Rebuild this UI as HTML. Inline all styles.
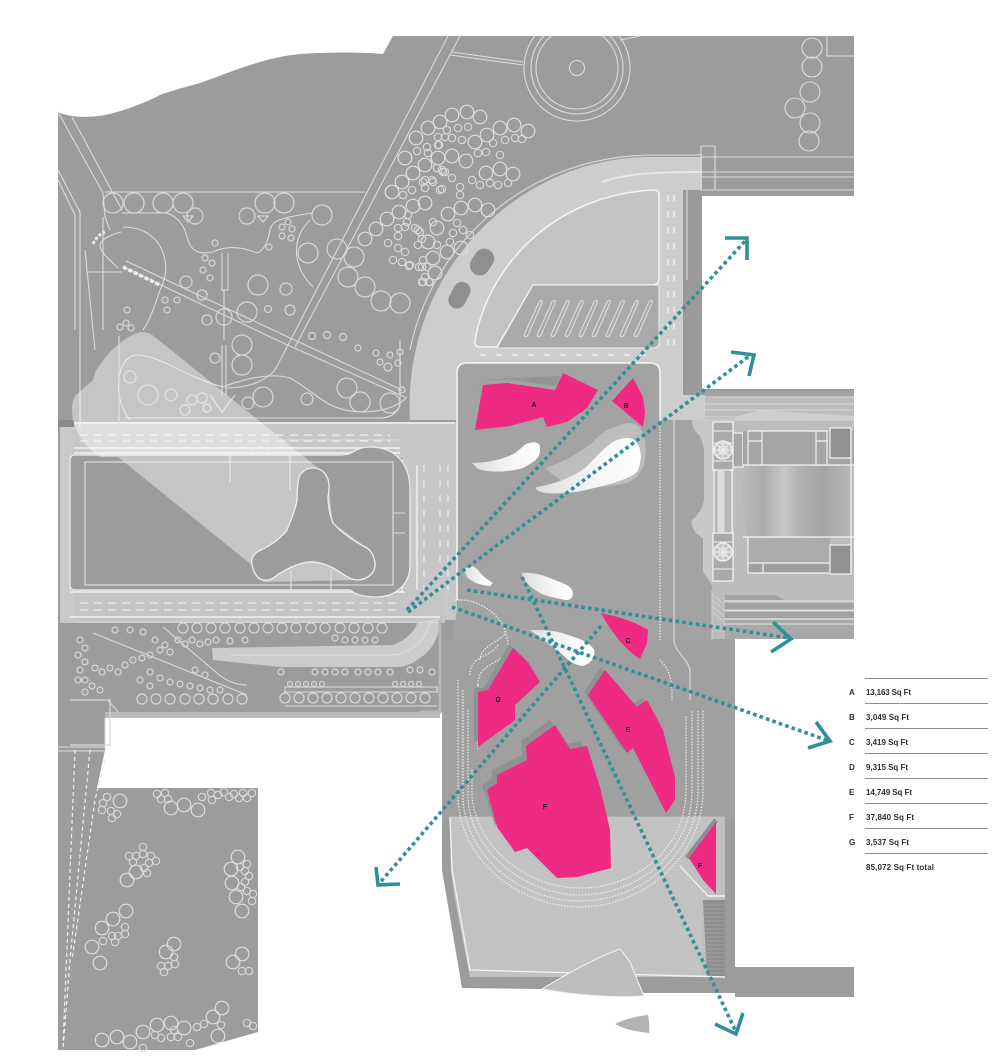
<!DOCTYPE html>
<html><head><meta charset="utf-8"><title>Site plan</title>
<style>
html,body{margin:0;padding:0;background:#fff}
svg{display:block}
.l{fill:none;stroke:#dcdcdc;stroke-width:1.1}
.w{fill:none;stroke:#f2f2f2;stroke-width:1.4}
.big circle{r:6.8px}
.sm circle{r:3.7px}
.t{fill:none;stroke:#d8d8d8;stroke-width:1.2}
.tb{fill:none;stroke:#dedede;stroke-width:1.2}
.p{fill:#ee2a82}
.sh{fill:#919191}
.lab{font:bold 7px "Liberation Sans",sans-serif;fill:#2a1020;text-anchor:middle}
.k{font:bold 8px "Liberation Sans",sans-serif;fill:#2e2e2e}
.a{fill:none;stroke:#2f9097;stroke-width:3.6;stroke-dasharray:3.6 3.2}
.h{fill:none;stroke:#2f9097;stroke-width:3.6}
.d{fill:none;stroke:#eee;stroke-width:1.2;stroke-dasharray:1.5 1.5}
</style></head><body>
<svg width="1000" height="1060" viewBox="0 0 1000 1060" xmlns="http://www.w3.org/2000/svg">
<defs>
<linearGradient id="sw" x1="0" x2="1" y1="0" y2="0"><stop offset="0" stop-color="#dedede"/><stop offset=".6" stop-color="#f6f6f6"/><stop offset="1" stop-color="#fff"/></linearGradient>
<linearGradient id="bld" x1="0" x2="1" y1="0" y2="0">
<stop offset="0" stop-color="#b8b8b8"/><stop offset=".2" stop-color="#adadad"/><stop offset=".38" stop-color="#c8c8c8"/><stop offset=".52" stop-color="#b2b2b2"/><stop offset=".75" stop-color="#a4a4a4"/><stop offset="1" stop-color="#b8b8b8"/></linearGradient>
<clipPath id="top"><rect x="300" y="36" width="560" height="200"/></clipPath>
</defs>
<rect width="1000" height="1060" fill="#fff"/>
<!-- base -->
<path fill="#9c9c9c" d="M58 112C70 118 95 119 117 112C140 105 150 100 160 95C180 88 190 86 200 83C225 74 240 68 250 65C275 57 290 55 300 54C330 52 360 52 383 54L393 36H854V196H702V389H854V639H735V967H854V997H735V993L644 993L542 989L462 988L442 870V712L105 717V750L97 788H258V1032L195 1050H58Z"/>
<!-- upper light road -->
<path fill="#cdcdcd" d="M410 420C402 270 520 157 650 157H702V190H683V395H705V420H457V420Z"/>
<path fill="#9a9a9a" d="M683 190H702V390H683Z"/>
<path class="l" d="M702 157H854M702 172H854M702 177H854M702 190H854M701 146H715V190H701ZM687 190V280"/>
<path class="l" d="M410 350C430 250 520 157 650 155H702"/>
<path d="M602 182C625 174 650 172 702 172" fill="none" stroke="#e8e8e8" stroke-width="2"/>
<!-- inner lot -->
<path fill="#c3c3c3" stroke="#f4f4f4" stroke-width="1.5" d="M654 190C560 194 490 260 475 340Q474 347 480 347H497L533 285H652Q659 285 659 278V195Q659 190 654 190Z"/>
<path fill="#a9a9a9" stroke="#f0f0f0" stroke-width="1" d="M497 348L533 285H659V343Q659 348 652 348Z"/>
<g class="l" stroke-width="1">
<path d="M524 335L539 302Q543 298 542 303L528 335Q525 338 524 335Z"/><path d="M537 335L552 302Q556 298 555 303L541 335Q538 338 537 335Z"/><path d="M551 335L566 302Q570 298 569 303L555 335Q552 338 551 335Z"/><path d="M565 335L580 302Q584 298 583 303L569 335Q566 338 565 335Z"/><path d="M579 335L594 302Q598 298 597 303L583 335Q580 338 579 335Z"/><path d="M592 335L607 302Q611 298 610 303L596 335Q593 338 592 335Z"/><path d="M606 335L621 302Q625 298 624 303L610 335Q607 338 606 335Z"/><path d="M620 335L635 302Q639 298 638 303L624 335Q621 338 620 335Z"/><path d="M634 335L649 302Q653 298 652 303L638 335Q635 338 634 335Z"/>
</g>
<g transform="rotate(33 482 262)"><rect x="472" y="248" width="20" height="28" rx="10" fill="#8f8f8f"/></g>
<g transform="rotate(28 459 295)"><rect x="451" y="281" width="17" height="28" rx="8.500" fill="#8f8f8f"/></g>
<path d="M668 195V350M674 195V350" stroke="#eee" stroke-width="1.5" stroke-dasharray="6 10" fill="none"/>
<path d="M480 355H650" stroke="#eee" stroke-width="1.5" stroke-dasharray="6 10" fill="none"/>
<!-- horizontal roads + left light -->
<rect x="60" y="422" width="397" height="36" fill="#c7c7c7"/>
<rect x="402" y="440" width="55" height="180" fill="#c7c7c7"/>
<rect x="60" y="590" width="385" height="33" fill="#c5c5c5"/>
<rect x="60" y="422" width="14" height="200" fill="#c9c9c9"/>
<rect x="58" y="420" width="16" height="7" fill="#8a8a8a"/>
<path d="M74 423H455M74 448H400M74 453H400M70 592H405M70 617H440M402 460V592M417 465V590" class="w"/>
<path d="M80 435H390M80 441H390M80 603H400M80 610H400" stroke="#eee" stroke-width="1.2" stroke-dasharray="8 6" fill="none"/>
<path d="M424 465V590M440 465V590M448 465V590" stroke="#eee" stroke-width="1.2" stroke-dasharray="7 8" fill="none"/>
<!-- lower road -->
<path fill="#cccccc" d="M212 648L393 645C405 640 415 632 417 623L440 618C440 635 433 650 420 658C412 664 405 667 395 667L280 667L213 660Z"/>
<path class="l" d="M230 655H390C410 655 428 640 430 620"/>
<path class="l" d="M163 627L217 673C225 680 235 685 247 685M93 633L247 695M74 622H440M285 687H437V692H285ZM285 692H440M285 706H437"/>
<rect x="105" y="712" width="335" height="6" fill="#bbb"/>
<path d="M420 712H440V620" fill="none" stroke="#b7b7b7" stroke-width="3"/>
<!-- block -->
<path fill="#9c9c9c" stroke="#ededed" stroke-width="1.3" d="M75 455H340Q348 455 353 452C360 447 370 446 380 448C400 452 410 468 410 490V565C410 585 395 597 377 597C362 597 355 594 350 590H75Q70 590 70 585V460Q70 455 75 455Z"/>
<rect x="85" y="462" width="308" height="123" fill="none" stroke="#e2e2e2" stroke-width="1.1"/>
<path class="l" d="M230 453V482M290 453V490M250 453C250 445 270 445 270 453M393 513H405M393 533H405M291 570V590M331 570V590"/>
<!-- park lines -->
<g class="l">
<path d="M58 112L103 193L105 217L110 230M72 117L122 210M58 170L80 212V430M58 180L75 215V330M85 250L95 350M103 217V330M88 272H122"/>
<path d="M105 192H365"/>
<path d="M448 36L287 347M460 36L295 347"/>
<path d="M452 52L523 62M450 55L523 65M620 40L640 36"/>
<path d="M123 267L283 343L405 397M126 261L288 337L402 390"/>
<path d="M122 213H167C180 218 185 228 187 237C190 248 195 253 205 253L213 252C225 246 240 246 257 253C265 250 268 240 270 230C272 222 276 218 313 213"/>
<path d="M310 220C298 232 295 245 297 258C299 270 306 280 313 287"/>
<path d="M123 227C140 227 150 233 158 243C168 258 168 275 160 290C155 305 150 320 143 330"/>
<path d="M222 253V290H228V253M224 290V340M121 232C110 235 100 240 100 245C100 252 110 260 118 268"/>
<path d="M222 345V395M226 345V395M210 395L222 412L235 395"/>
<path d="M120 440H400M119 336V440"/>
<path d="M130 420C110 395 118 355 137 355C160 355 180 375 223 387C240 380 270 372 290 378C320 395 325 410 360 412C385 412 400 405 407 397"/>
<path d="M287 347L275 370C262 385 240 388 226 388"/>
<path d="M400 340V405Q395 418 380 418H125"/>
</g>
<path d="M123 267L160 285" stroke="#eee" stroke-width="3.500" stroke-dasharray="4 2" fill="none"/>
<path d="M93 244Q98 234 105 232" stroke="#eee" stroke-width="3" stroke-dasharray="3 2" fill="none"/>
<g class="t">
<circle cx="113" cy="203" r="10"/><circle cx="134" cy="203" r="10"/><circle cx="163" cy="203" r="10"/><circle cx="183" cy="203" r="10"/><circle cx="265" cy="203" r="10"/><circle cx="284" cy="203" r="10"/><circle cx="195" cy="216" r="8"/><circle cx="247" cy="216" r="8"/><circle cx="322" cy="215" r="10"/>
<circle cx="258" cy="285" r="10"/><circle cx="286" cy="289" r="6"/><circle cx="186" cy="282" r="6"/><circle cx="202" cy="295" r="5"/><circle cx="247" cy="312" r="10"/><circle cx="207" cy="320" r="5"/><circle cx="290" cy="310" r="5"/><circle cx="268" cy="309" r="3.500"/><circle cx="224" cy="317" r="8"/><circle cx="242" cy="345" r="10"/><circle cx="242" cy="365" r="10"/><circle cx="215" cy="358" r="5"/>
<circle cx="308" cy="253" r="10"/><circle cx="337" cy="249" r="10"/><circle cx="354" cy="257" r="10"/><circle cx="348" cy="277" r="10"/><circle cx="365" cy="287" r="10"/><circle cx="381" cy="301" r="10"/><circle cx="400" cy="303" r="10"/>
<circle cx="148" cy="395" r="10"/><circle cx="130" cy="377" r="6"/><circle cx="171" cy="395" r="6"/><circle cx="192" cy="400" r="5"/><circle cx="202" cy="398" r="5"/><circle cx="185" cy="410" r="5"/><circle cx="207" cy="408" r="4"/><circle cx="263" cy="397" r="10"/><circle cx="248" cy="403" r="6"/><circle cx="307" cy="399" r="6"/>
<circle cx="347" cy="388" r="10"/><circle cx="360" cy="402" r="10"/><circle cx="390" cy="403" r="10"/><circle cx="312" cy="336" r="3.500"/><circle cx="327" cy="335" r="3.500"/><circle cx="343" cy="337" r="3.500"/><circle cx="358" cy="348" r="3"/><circle cx="376" cy="353" r="3"/><circle cx="390" cy="355" r="3"/><circle cx="400" cy="352" r="3"/><circle cx="380" cy="362" r="3"/><circle cx="388" cy="367" r="4"/><circle cx="398" cy="363" r="3"/><circle cx="402" cy="390" r="3"/>
<circle cx="215" cy="243" r="3"/><circle cx="205" cy="258" r="3"/><circle cx="212" cy="263" r="3"/><circle cx="203" cy="270" r="3"/><circle cx="210" cy="278" r="3"/><circle cx="288" cy="222" r="3"/><circle cx="282" cy="227" r="3"/><circle cx="292" cy="229" r="3"/><circle cx="282" cy="236" r="3"/><circle cx="291" cy="238" r="3"/><circle cx="269" cy="247" r="3"/>
<circle cx="127" cy="310" r="3"/><circle cx="126" cy="323" r="3"/><circle cx="120" cy="327" r="3"/><circle cx="131" cy="328" r="3"/><circle cx="165" cy="300" r="3"/><circle cx="167" cy="310" r="3"/><circle cx="177" cy="300" r="3"/>
</g>
<path d="M183 216L193 216L188 222ZM258 216L268 216L263 222Z" class="l"/>
<!-- top cluster -->
<g class="tb big">
<circle cx="467" cy="112"/><circle cx="452" cy="115"/><circle cx="440" cy="122"/><circle cx="428" cy="128"/><circle cx="416" cy="138"/><circle cx="480" cy="117"/><circle cx="500" cy="128"/><circle cx="514" cy="125"/><circle cx="528" cy="131"/><circle cx="487" cy="135"/><circle cx="475" cy="142"/><circle cx="438" cy="158"/><circle cx="452" cy="156"/><circle cx="466" cy="161"/><circle cx="425" cy="165"/><circle cx="413" cy="173"/><circle cx="405" cy="158"/><circle cx="486" cy="173"/><circle cx="500" cy="169"/><circle cx="513" cy="174"/><circle cx="402" cy="182"/><circle cx="425" cy="203"/><circle cx="413" cy="206"/><circle cx="448" cy="214"/><circle cx="461" cy="208"/><circle cx="475" cy="205"/><circle cx="488" cy="210"/><circle cx="437" cy="228"/><circle cx="428" cy="242"/><circle cx="447" cy="252"/><circle cx="461" cy="248"/><circle cx="433" cy="258"/><circle cx="435" cy="273"/><circle cx="392" cy="192"/><circle cx="399" cy="212"/><circle cx="387" cy="219"/><circle cx="376" cy="229"/><circle cx="365" cy="239"/>
</g>
<g class="t sm">
<circle cx="417" cy="151"/><circle cx="428" cy="153"/><circle cx="445" cy="137"/><circle cx="438" cy="145"/><circle cx="437" cy="168"/><circle cx="443" cy="172"/><circle cx="432" cy="180"/><circle cx="423" cy="182"/><circle cx="412" cy="190"/><circle cx="403" cy="195"/><circle cx="425" cy="188"/><circle cx="442" cy="189"/><circle cx="407" cy="222"/><circle cx="398" cy="228"/><circle cx="398" cy="236"/><circle cx="388" cy="243"/><circle cx="415" cy="228"/><circle cx="420" cy="232"/><circle cx="422" cy="239"/><circle cx="418" cy="245"/><circle cx="398" cy="248"/><circle cx="393" cy="260"/><circle cx="405" cy="252"/><circle cx="402" cy="262"/><circle cx="409" cy="266"/><circle cx="419" cy="267"/><circle cx="427" cy="267"/><circle cx="425" cy="277"/><circle cx="422" cy="282"/><circle cx="429" cy="282"/>
<circle cx="447" cy="130"/><circle cx="458" cy="128"/><circle cx="468" cy="127"/><circle cx="438" cy="137"/><circle cx="452" cy="138"/><circle cx="462" cy="140"/><circle cx="439" cy="145"/><circle cx="427" cy="147"/><circle cx="493" cy="143"/><circle cx="505" cy="140"/><circle cx="515" cy="138"/><circle cx="522" cy="139"/><circle cx="486" cy="152"/><circle cx="500" cy="155"/><circle cx="478" cy="153"/><circle cx="442" cy="170"/><circle cx="425" cy="180"/><circle cx="433" cy="182"/><circle cx="440" cy="190"/><circle cx="460" cy="187"/><circle cx="460" cy="195"/><circle cx="472" cy="180"/><circle cx="480" cy="185"/><circle cx="490" cy="183"/><circle cx="508" cy="183"/><circle cx="498" cy="185"/><circle cx="445" cy="172"/><circle cx="452" cy="178"/><circle cx="405" cy="227"/><circle cx="408" cy="215"/><circle cx="418" cy="230"/><circle cx="433" cy="222"/><circle cx="457" cy="223"/><circle cx="463" cy="230"/><circle cx="470" cy="235"/><circle cx="453" cy="233"/><circle cx="450" cy="242"/><circle cx="423" cy="260"/><circle cx="422" cy="267"/><circle cx="423" cy="282"/><circle cx="430" cy="282"/><circle cx="437" cy="245"/><circle cx="410" cy="265"/>
</g>
<!-- roundabout -->
<g clip-path="url(#top)" class="l">
<circle cx="577" cy="68" r="53"/><circle cx="577" cy="68" r="46"/><circle cx="577" cy="68" r="41"/><circle cx="577" cy="68" r="7.500"/>
<circle cx="812" cy="48" r="10"/><circle cx="812" cy="67" r="10"/><circle cx="810" cy="92" r="10"/><circle cx="795" cy="108" r="10"/><circle cx="810" cy="123" r="10"/><circle cx="809" cy="141" r="10"/>
<path d="M827 36V56H854"/>
</g>
<!-- light band -->
<path fill="#fff" opacity=".42" d="M140 332Q150 332 156 338L318 468L327 477L333 523L367 548L375 563L357 580L263 582L258 570L118 457H100Q80 445 73 420Q70 402 76 395L93 380L95 372Q115 340 140 332Z"/>
<path class="l" d="M119 336V440M120 440H400" opacity=".8"/>
<g class="tb"><circle cx="148" cy="395" r="10"/><circle cx="130" cy="377" r="6"/><circle cx="171" cy="395" r="6"/><circle cx="192" cy="400" r="5"/><circle cx="202" cy="398" r="5"/><circle cx="185" cy="410" r="5"/></g>
<path fill="#9c9c9c" stroke="#f0f0f0" stroke-width="1.3" d="M313 468C303 468 298 476 298 483C297 490 297 495 297 500C295 512 290 522 287 530C278 542 265 548 257 552C252 556 251 561 252 565C254 574 258 579 263 580C270 581 274 578 277 575C285 570 295 565 303 563C315 560 325 564 333 568C342 573 350 580 357 580C368 580 376 572 375 563C374 556 372 552 367 548C355 542 343 534 333 523C329 513 328 505 328 497C330 487 329 481 327 477C324 471 319 468 313 468Z"/>
<path class="l" d="M291 570V590M331 570V590"/>
<!-- strip trees -->
<g class="t">
<circle cx="183" cy="628" r="5"/><circle cx="197" cy="628" r="5"/><circle cx="211" cy="628" r="5"/><circle cx="225" cy="628" r="5"/><circle cx="240" cy="628" r="5"/><circle cx="254" cy="628" r="5"/><circle cx="268" cy="628" r="5"/><circle cx="282" cy="628" r="5"/><circle cx="296" cy="628" r="5"/><circle cx="311" cy="628" r="5"/><circle cx="325" cy="628" r="5"/><circle cx="340" cy="628" r="5"/><circle cx="354" cy="628" r="5"/><circle cx="368" cy="628" r="5"/><circle cx="382" cy="628" r="5"/>
<circle cx="178" cy="640" r="3"/><circle cx="185" cy="644" r="3"/><circle cx="192" cy="640" r="3"/><circle cx="200" cy="644" r="3"/><circle cx="208" cy="642" r="3"/><circle cx="216" cy="640" r="3"/><circle cx="230" cy="641" r="3"/><circle cx="245" cy="640" r="3"/><circle cx="335" cy="638" r="3"/><circle cx="345" cy="640" r="3"/><circle cx="355" cy="640" r="3"/><circle cx="365" cy="640" r="3"/><circle cx="375" cy="640" r="3"/>
<circle cx="142" cy="699" r="5"/><circle cx="156" cy="699" r="5"/><circle cx="170" cy="699" r="5"/><circle cx="185" cy="699" r="5"/><circle cx="199" cy="699" r="5"/><circle cx="213" cy="699" r="5"/><circle cx="228" cy="699" r="5"/><circle cx="242" cy="699" r="5"/>
<circle cx="285" cy="698" r="5"/><circle cx="299" cy="698" r="5"/><circle cx="313" cy="698" r="5"/><circle cx="327" cy="698" r="5"/><circle cx="341" cy="698" r="5"/><circle cx="355" cy="698" r="5"/><circle cx="369" cy="698" r="5"/><circle cx="383" cy="698" r="5"/><circle cx="397" cy="698" r="5"/><circle cx="411" cy="698" r="5"/><circle cx="425" cy="698" r="5"/>
<circle cx="281" cy="672" r="3"/><circle cx="315" cy="672" r="3"/><circle cx="325" cy="672" r="3"/><circle cx="335" cy="672" r="3"/><circle cx="345" cy="672" r="3"/><circle cx="358" cy="672" r="3"/><circle cx="368" cy="672" r="3"/><circle cx="378" cy="672" r="3"/><circle cx="390" cy="672" r="3"/><circle cx="410" cy="670" r="3"/><circle cx="420" cy="670" r="3"/><circle cx="432" cy="672" r="3"/>
<circle cx="290" cy="684" r="2.500"/><circle cx="298" cy="684" r="2.500"/><circle cx="306" cy="684" r="2.500"/><circle cx="314" cy="684" r="2.500"/><circle cx="322" cy="684" r="2.500"/><circle cx="395" cy="684" r="2.500"/><circle cx="403" cy="684" r="2.500"/><circle cx="411" cy="684" r="2.500"/><circle cx="419" cy="684" r="2.500"/>
<circle cx="80" cy="640" r="3"/><circle cx="85" cy="648" r="3"/><circle cx="78" cy="655" r="3"/><circle cx="85" cy="662" r="3"/><circle cx="80" cy="670" r="3"/><circle cx="85" cy="680" r="3"/><circle cx="92" cy="686" r="3"/><circle cx="100" cy="690" r="3"/><circle cx="85" cy="692" r="3"/><circle cx="78" cy="680" r="3"/><circle cx="95" cy="668" r="3"/><circle cx="102" cy="672" r="3"/><circle cx="110" cy="668" r="3"/><circle cx="118" cy="672" r="3"/><circle cx="125" cy="665" r="3"/><circle cx="133" cy="660" r="3"/><circle cx="142" cy="658" r="3"/><circle cx="150" cy="655" r="3"/><circle cx="160" cy="650" r="3"/><circle cx="170" cy="652" r="3"/><circle cx="115" cy="630" r="3"/><circle cx="130" cy="630" r="3"/><circle cx="143" cy="632" r="3"/><circle cx="155" cy="640" r="3"/><circle cx="165" cy="645" r="3"/>
<circle cx="150" cy="672" r="3"/><circle cx="160" cy="678" r="3"/><circle cx="170" cy="682" r="3"/><circle cx="180" cy="684" r="3"/><circle cx="190" cy="686" r="3"/><circle cx="200" cy="688" r="3"/><circle cx="210" cy="690" r="3"/><circle cx="220" cy="690" r="3"/><circle cx="140" cy="680" r="3"/><circle cx="150" cy="686" r="3"/><circle cx="195" cy="670" r="3"/><circle cx="205" cy="675" r="3"/>
<path d="M70 700H110V745H70M108 700L118 712"/>
</g>
<!-- lower-left block -->
<path d="M105 718V748" class="l"/><path d="M58 747H105M58 751H105" class="l"/>
<path d="M75 750L63 1045M90 750L70 960L63 1050M105 760L95 800L72 960" fill="none" stroke="#eee" stroke-width="1.2" stroke-dasharray="4 3"/>
<g class="tb big">
<circle cx="120" cy="801"/><circle cx="171" cy="808"/><circle cx="184" cy="805"/><circle cx="198" cy="810"/><circle cx="136" cy="872"/><circle cx="127" cy="880"/><circle cx="238" cy="857"/><circle cx="231" cy="869"/><circle cx="232" cy="883"/><circle cx="236" cy="897"/><circle cx="242" cy="911"/><circle cx="126" cy="911"/><circle cx="113" cy="919"/><circle cx="102" cy="928"/><circle cx="92" cy="947"/><circle cx="100" cy="963"/><circle cx="174" cy="944"/><circle cx="166" cy="952"/><circle cx="242" cy="954"/><circle cx="233" cy="962"/><circle cx="222" cy="1008"/><circle cx="213" cy="1017"/><circle cx="218" cy="1036"/><circle cx="184" cy="1028"/><circle cx="171" cy="1023"/><circle cx="157" cy="1025"/><circle cx="143" cy="1032"/><circle cx="130" cy="1042"/><circle cx="117" cy="1037"/><circle cx="102" cy="1040"/>
</g>
<g class="t sm">
<circle cx="107" cy="797"/><circle cx="103" cy="803"/><circle cx="102" cy="810"/><circle cx="111" cy="811"/><circle cx="117" cy="814"/><circle cx="112" cy="818"/><circle cx="157" cy="794"/><circle cx="165" cy="793"/><circle cx="161" cy="799"/><circle cx="168" cy="799"/><circle cx="202" cy="797"/><circle cx="211" cy="793"/><circle cx="218" cy="795"/><circle cx="212" cy="800"/><circle cx="224" cy="792"/><circle cx="229" cy="797"/><circle cx="234" cy="794"/><circle cx="239" cy="798"/><circle cx="243" cy="793"/><circle cx="247" cy="798"/><circle cx="252" cy="793"/><circle cx="143" cy="847"/><circle cx="129" cy="856"/><circle cx="136" cy="856"/><circle cx="143" cy="854"/><circle cx="151" cy="856"/><circle cx="133" cy="862"/><circle cx="156" cy="861"/><circle cx="149" cy="863"/><circle cx="144" cy="868"/><circle cx="147" cy="873"/><circle cx="240" cy="867"/><circle cx="247" cy="864"/><circle cx="245" cy="871"/><circle cx="249" cy="876"/><circle cx="245" cy="882"/><circle cx="241" cy="887"/><circle cx="247" cy="891"/><circle cx="253" cy="894"/><circle cx="252" cy="901"/><circle cx="125" cy="927"/><circle cx="125" cy="934"/><circle cx="118" cy="936"/><circle cx="112" cy="936"/><circle cx="115" cy="942"/><circle cx="103" cy="941"/><circle cx="174" cy="957"/><circle cx="175" cy="964"/><circle cx="168" cy="966"/><circle cx="161" cy="966"/><circle cx="164" cy="972"/><circle cx="242" cy="971"/><circle cx="249" cy="971"/><circle cx="247" cy="1023"/><circle cx="253" cy="1026"/><circle cx="197" cy="1027"/><circle cx="204" cy="1024"/><circle cx="221" cy="1025"/><circle cx="174" cy="1030"/><circle cx="171" cy="1037"/><circle cx="178" cy="1037"/><circle cx="155" cy="1035"/><circle cx="161" cy="1038"/><circle cx="190" cy="1043"/><circle cx="143" cy="1048"/>
</g>
<!-- plaza -->
<path fill="#a3a3a3" d="M467 363H650Q660 363 660 373V420H735V712H442V640H452L457 610V373Q457 363 467 363Z"/>
<path fill="none" stroke="#f5f5f5" stroke-width="1.5" d="M457 600V373Q457 363 467 363H650Q660 363 660 373V420"/>
<path fill="#a0a0a0" d="M442 640H735V820H442Z"/>
<path d="M660 420V640" class="d"/><path d="M674 420V640C674 652 690 660 690 672V700" class="l"/>
<path d="M455 600H462C482 600 505 620 505 632C505 640 480 645 480 660" class="d" stroke-width="1"/>
<!-- lower light -->
<path fill="#c2c2c2" d="M450 817H725V977H470L455 900L451 870Z"/>
<path fill="#8f8f8f" d="M703 900H725V977H707Z"/>
<path d="M703 905H725M703 909H725M703 913H725M703 917H725M703 921H725M703 925H725M703 929H725M703 933H725M703 937H725M703 941H725M703 945H725M703 949H725M703 953H725M703 957H725M703 961H725M703 965H725M703 969H725M703 973H725" stroke="#a8a8a8" stroke-width=".8"/>
<path class="w" stroke-width="1" d="M450 817L452 870L470 970L725 977"/>
<path d="M450 817H725" stroke="#ccc" stroke-width=".8"/>
<!-- track -->
<g class="d">
<path d="M458 680V795C458 860 520 907 580 907C640 907 703 860 703 790V710"/>
<path d="M463 690V795C463 855 520 901 580 901C640 901 698 855 698 790V710"/>
<path d="M468 710V795C468 850 525 895 580 895C638 895 692 852 692 790V710"/>
<path d="M472 770V795C475 845 525 888 580 888C635 888 686 850 686 790V715"/>
<path d="M478 685V750M478 685C478 665 495 665 505 655C510 650 508 640 505 630"/>
<path d="M470 675C470 655 490 658 498 645"/>
<path d="M672 700C672 685 672 672 660 660"/>
</g>
<!-- G wedge -->
<path fill="#c0c0c0" d="M716 817L680 866L708 900H725V817Z"/>
<path fill="none" stroke="#8e8e8e" stroke-width="5" d="M716 820L687 858"/>
<path class="w" d="M680 866L708 896H725"/>
<!-- shadows -->
<path class="sh" transform="translate(-4 -4)" d="M478 692H488L513 648L528 662L540 682L515 705V720L478 747Z"/>
<path class="sh" transform="translate(-4 -3)" d="M588 695L605 670L637 707L647 700L663 730L660 745L640 750L627 753Z"/>
<path class="sh" transform="translate(-5 -5)" d="M487 790L497 783V775L527 760L526 746L555 725L570 749L587 746L590 770L500 830Z"/>
<path fill="#959595" d="M477 388L483 380H510L555 386L561 376L507 378L484 380Z"/>
<!-- white swooshes -->
<path fill="url(#sw)" d="M472 463C490 463 507 458 515 453C522 448 525 443 530 443C537 441 541 444 540 450C540 456 538 460 523 468C510 472 490 473 478 469Z"/>
<path fill="#bdbdbd" d="M545 468C565 462 583 450 592 443C600 434 608 428 613 428C622 423 632 421 638 426C645 431 647 445 645 460C643 472 635 480 627 483C610 487 580 490 560 480Z"/>
<path fill="url(#sw)" d="M537 487C555 484 573 477 585 468C595 458 605 447 613 442C622 437 633 436 637 443C642 450 642 462 637 472C628 480 607 485 590 489C575 493 557 494 545 493Q533 490 537 487Z"/>
<path fill="url(#sw)" d="M463 569L473 566L478 570C482 576 488 580 493 583L490 586C480 585 473 583 467 577Z"/>
<path fill="url(#sw)" d="M522 573C530 572 540 574 550 578C560 582 570 585 572 590C574 595 572 600 566 600C555 598 543 596 535 590C528 585 522 578 522 573Z"/>
<path fill="url(#sw)" d="M530 630C542 630 555 630 565 634C578 638 590 642 594 650C596 657 590 664 583 666C575 665 570 662 564 656C555 648 540 638 530 630Z"/>
<!-- right building -->
<rect x="705" y="391" width="149" height="248" fill="#bcbcbc"/>
<rect x="705" y="391" width="149" height="6" fill="#a3a3a3"/>
<path d="M705 397H854M705 404H854M705 410H854M705 417H854M705 420H854" stroke="#d8d8d8" stroke-width="1"/>
<path d="M735 417L760 410L854 416L854 420H735Z" fill="#cfcfcf"/>
<path fill="#a3a3a3" d="M690 420H712V640H690Z"/>
<path fill="#c8c8c8" d="M692 420C692 428 696 432 700 436C702 442 704 446 704 452V500C702 510 698 515 692 520C690 528 696 534 703 538V572L712 585V420Z"/>
<rect x="710" y="420" width="24" height="162" fill="#c6c6c6"/>
<g fill="#a9a9a9" stroke="#f4f4f4" stroke-width="1.2">
<rect x="713" y="422" width="20" height="48"/><rect x="713" y="533" width="20" height="48"/>
<rect x="714" y="470" width="18" height="63" fill="#b7b7b7"/>
<rect x="733" y="433" width="10" height="34" fill="#a6a6a6"/>
</g>
<path d="M721 470V533" stroke="#ddd" stroke-width="7"/>
<g fill="#c8c8c8" stroke="#f2f2f2" stroke-width="1.3"><circle cx="723" cy="450" r="9"/><circle cx="723" cy="552" r="9"/></g>
<g fill="none" stroke="#eee" stroke-width="1"><circle cx="723" cy="450" r="4"/><circle cx="723" cy="552" r="4"/><path d="M715 450H731M723 442V458M717 444L729 456M729 444L717 456M715 552H731M723 544V560M717 546L729 558M729 546L717 558"/></g>
<path d="M713 431H733M713 443H733M713 461H733M713 542H733M713 569H733" stroke="#f2f2f2" stroke-width="1"/>
<rect x="743" y="431" width="111" height="34" fill="#a5a5a5"/>
<path fill="url(#bld)" d="M744 466H851V537H747Q740 500 744 466Z"/>
<path fill="#ababab" d="M748 538H830V563H748Z"/>
<rect x="748" y="563" width="82" height="10" fill="#9f9f9f"/>
<g fill="none" stroke="#f4f4f4" stroke-width="1.2">
<path d="M743 465H854M743 537H854M748 431V465M762 431V465M816 431V465M827 431V465M748 431H828M748 441H762M816 441H828M748 537V573M748 563H830M763 563V573M748 573H830"/>
<rect x="830" y="428" width="21" height="30" fill="#919191"/>
<rect x="830" y="545" width="21" height="29" fill="#919191"/>
<path d="M851 428V574"/>
</g>
<path fill="#a2a2a2" d="M725 595H775L785 600H725ZM725 603H854V609H725ZM725 612H854V618H725Z"/>
<path fill="#a8a8a8" d="M725 620H854V639H725Z"/>
<path stroke="#e6e6e6" stroke-width="1" d="M724 601H854M724 610.500H854M724 619H854M724 624H854"/>
<path d="M712 590V640M712 600L724 610M712 606L724 616M712 612L724 622M712 594L724 604" stroke="#d0d0d0" stroke-width="1"/>
<!-- bottom wedges -->
<path fill="#bdbdbd" stroke="#f3f3f3" stroke-width="1" d="M542 989C565 975 595 958 620 949L630 962L644 996C610 998 575 995 542 989Z"/>
<path fill="#b3b3b3" d="M615 1024C625 1019 637 1016 648 1015Q650 1025 649 1033C640 1032 625 1030 615 1024Z"/>
<!-- pink -->
<path class="p" d="M475 430L483 385L507 383L555 390L563 373L598 390L587 408L567 422L547 427L543 417L510 426Z"/>
<path class="p" d="M612 401L633 378L643 397L645 413L643 427Z"/>
<path class="p" d="M601 613C620 617 635 622 648 630L647 643L640 659C625 650 610 630 601 613Z"/>
<path class="p" d="M478 692L488 690L513 648L528 662L540 682L515 705V720L478 747Z"/>
<path class="p" d="M588 695L605 670L637 707L647 700L663 730L675 777V800L666 813L633 748L627 753Z"/>
<path class="p" d="M487 790L497 783V775L527 760L526 746L555 725L570 749L587 746L600 787L610 830L611 868L577 877L557 878L527 848L515 852L497 827Z"/>
<path class="p" d="M689 858L716 822V894L703 880Z"/>
<g class="lab">
<text x="534" y="407">A</text><text x="626" y="408">B</text><text x="628" y="643">C</text><text x="498" y="702">D</text><text x="628" y="732">E</text><text x="545" y="809">F</text><text x="700" y="868">F</text>
</g>
<!-- arrows -->
<g>
<path class="a" d="M407 610L746 240"/>
<path class="a" d="M408 612L752 354"/>
<path class="a" d="M467 590L789 638"/>
<path class="a" d="M452 607L829 741"/>
<path class="a" d="M522 577L736 1032"/>
<path class="a" d="M601 626L378 885"/>
<path class="h" d="M725 238H747V260"/>
<path class="h" d="M731 352L754 355L749 376"/>
<path class="h" d="M773 622L791 639L771 652"/>
<path class="h" d="M816 722L830 741L808 748"/>
<path class="h" d="M715 1024L736 1034L743 1013"/>
<path class="h" d="M376 867L378 885L400 884"/>
</g>
<!-- legend -->
<g stroke="#6a6a6a" stroke-width=".8">
<path d="M865 678.500H988M865 703.500H988M865 728.500H988M865 753.500H988M865 778.500H988M865 803.500H988M865 828.500H988M865 853.500H988"/>
</g>
<g class="k">
<text x="849" y="695">A</text><text x="866" y="695" textLength="45">13,163 Sq Ft</text>
<text x="849" y="720">B</text><text x="866" y="720" textLength="43">3,049 Sq Ft</text>
<text x="849" y="745">C</text><text x="866" y="745" textLength="42">3,419 Sq Ft</text>
<text x="849" y="770">D</text><text x="866" y="770" textLength="42">9,315 Sq Ft</text>
<text x="849" y="795">E</text><text x="866" y="795" textLength="46">14,749 Sq Ft</text>
<text x="849" y="820">F</text><text x="866" y="820" textLength="48">37,840 Sq Ft</text>
<text x="849" y="845">G</text><text x="866" y="845" textLength="43">3,537 Sq Ft</text>
<text x="866" y="870" textLength="68">85,072 Sq Ft total</text>
</g>
</svg>
</body></html>
